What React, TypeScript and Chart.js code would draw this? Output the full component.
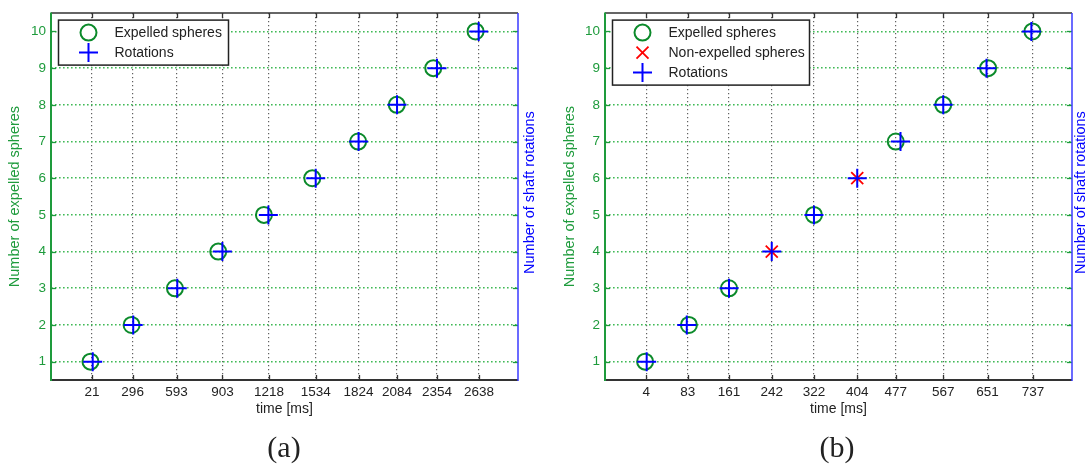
import React, { useEffect, useRef } from 'react';
import { Chart, registerables } from 'chart.js';

Chart.register(...registerables);

// ---------- data ----------
const yTicks = [1, 2, 3, 4, 5, 6, 7, 8, 9, 10];

// panel (a)
const countsA = [1, 2, 3, 4, 5, 6, 7, 8, 9, 10];
const expelledTimesA = [11, 289, 582, 875, 1184, 1511, 1821, 2082, 2329, 2615];
const rotationTimesA = [26, 300, 598, 903, 1214, 1534, 1824, 2084, 2354, 2636];
const xTicksA = [21, 296, 593, 903, 1218, 1534, 1824, 2084, 2354, 2638];

// panel (b)
const expelledCountsB = [1, 2, 3, 5, 7, 8, 9, 10];
const expelledTimesB = [2, 85, 161, 322, 477, 567, 652, 736];
const nonExpelledCountsB = [4, 6];
const nonExpelledTimesB = [242, 404];
const rotationCountsB = [1, 2, 3, 4, 5, 6, 7, 8, 9, 10];
const rotationTimesB = [5, 81, 161, 242, 322, 404, 486, 567, 649, 734];
const xTicksB = [4, 83, 161, 242, 322, 404, 477, 567, 651, 737];

// ---------- styles ----------
const FONT = '"Liberation Sans", Arial, sans-serif';
const GREEN = '#1e9b3c';
const GREEN_GRID = '#3fba55';
const CIRCLE_GREEN = '#0b8a2a';
const BLUE = '#0000ff';
const RIGHT_BLUE = '#3a3aff';
const RED = '#ff0000';
const DARK = '#333333';
const GRAY_GRID = '#606060';

type LegendItem = { label: string; style: 'circle' | 'cross' | 'crossRot' };

function drawMarker(ctx: CanvasRenderingContext2D, style: string, x: number, y: number) {
  ctx.save();
  ctx.beginPath();
  if (style === 'circle') {
    ctx.strokeStyle = CIRCLE_GREEN;
    ctx.lineWidth = 2;
    ctx.arc(x, y, 8, 0, Math.PI * 2);
  } else if (style === 'cross') {
    ctx.strokeStyle = BLUE;
    ctx.lineWidth = 2;
    ctx.moveTo(x - 9.5, y);
    ctx.lineTo(x + 9.5, y);
    ctx.moveTo(x, y - 9.5);
    ctx.lineTo(x, y + 9.5);
  } else {
    ctx.strokeStyle = RED;
    ctx.lineWidth = 1.8;
    const d = 6;
    ctx.moveTo(x - d, y - d);
    ctx.lineTo(x + d, y + d);
    ctx.moveTo(x - d, y + d);
    ctx.lineTo(x + d, y - d);
  }
  ctx.stroke();
  ctx.restore();
}

const decorPlugin = {
  id: 'decor',
  afterDraw(chart: any, _args: any, opts: any) {
    const { ctx, chartArea: a, scales } = chart;
    const xs = scales.x;
    const ys = scales.y;
    const line = (x1: number, y1: number, x2: number, y2: number) => {
      ctx.beginPath();
      ctx.moveTo(x1, y1);
      ctx.lineTo(x2, y2);
      ctx.stroke();
    };
    ctx.save();
    // tick marks (inward)
    ctx.lineWidth = 1.3;
    ctx.strokeStyle = DARK;
    for (const t of opts.xTicks as number[]) {
      const px = Math.round(xs.getPixelForValue(t)) + 0.5;
      line(px, a.bottom, px, a.bottom - 5);
      line(px, a.top, px, a.top + 5);
    }
    ctx.strokeStyle = GREEN;
    for (const t of yTicks) {
      const py = Math.round(ys.getPixelForValue(t)) + 0.5;
      line(a.left, py, a.left + 5, py);
      line(a.right, py, a.right - 5, py);
    }
    // box
    ctx.lineWidth = 1.5;
    ctx.strokeStyle = DARK;
    line(a.left, a.top, a.right, a.top);
    ctx.lineWidth = 2;
    line(a.left, a.bottom, a.right, a.bottom);
    ctx.strokeStyle = RIGHT_BLUE;
    ctx.lineWidth = 1.5;
    line(a.right, a.top, a.right, a.bottom + 1);
    ctx.strokeStyle = GREEN;
    ctx.lineWidth = 2;
    line(a.left, a.top - 0.5, a.left, a.bottom + 1);

    // right axis title
    ctx.save();
    ctx.translate(a.right + opts.rightTitleOffset, (a.top + a.bottom) / 2 - 4);
    ctx.rotate(-Math.PI / 2);
    ctx.fillStyle = BLUE;
    ctx.font = `14.5px ${FONT}`;
    ctx.textAlign = 'center';
    ctx.textBaseline = 'middle';
    ctx.fillText('Number of shaft rotations', 0, 0);
    ctx.restore();

    // legend
    const items: LegendItem[] = opts.legend;
    const lx = a.left + 7.5;
    const ly = a.top + 7;
    const lw = opts.legendWidth;
    const lh = items.length * 20 + 5;
    ctx.fillStyle = '#ffffff';
    ctx.fillRect(lx, ly, lw, lh);
    ctx.strokeStyle = '#222222';
    ctx.lineWidth = 1.5;
    ctx.strokeRect(lx, ly, lw, lh);
    ctx.font = `14px ${FONT}`;
    ctx.textAlign = 'left';
    ctx.textBaseline = 'middle';
    items.forEach((it, i) => {
      const cy = ly + 12.5 + i * 20;
      drawMarker(ctx, it.style, lx + 30, cy);
      ctx.fillStyle = '#222222';
      ctx.fillText(it.label, lx + 56, cy + 0.5);
    });
    ctx.restore();
  },
};

type PanelSpec = {
  datasets: any[];
  xMin: number;
  xMax: number;
  xTicks: number[];
  leftWidth: number;
  rightPad: number;
  leftTitlePad: number;
  rightTitleOffset: number;
  legend: LegendItem[];
  legendWidth: number;
};

function makeConfig(spec: PanelSpec): any {
  return {
    type: 'scatter',
    data: { datasets: spec.datasets },
    plugins: [decorPlugin],
    options: {
      animation: false,
      responsive: false,
      events: [],
      layout: { padding: { top: 13, right: spec.rightPad, left: 0, bottom: 0 } },
      plugins: {
        legend: { display: false },
        tooltip: { enabled: false },
        decor: {
          xTicks: spec.xTicks,
          legend: spec.legend,
          legendWidth: spec.legendWidth,
          rightTitleOffset: spec.rightTitleOffset,
        },
      },
      scales: {
        x: {
          type: 'linear',
          min: spec.xMin,
          max: spec.xMax,
          afterBuildTicks: (s: any) => {
            s.ticks = spec.xTicks.map((v) => ({ value: v }));
          },
          afterFit: (s: any) => {
            s.height = 88;
          },
          ticks: {
            autoSkip: false,
            maxRotation: 0,
            minRotation: 0,
            padding: 4,
            color: '#222222',
            font: { family: FONT, size: 13.5 },
            callback: (v: any) => String(v),
          },
          grid: { color: GRAY_GRID, lineWidth: 1.2, drawTicks: false },
          border: { display: false, dash: [1.2, 2.8] },
          title: {
            display: true,
            text: 'time [ms]',
            color: '#222222',
            font: { family: FONT, size: 14 },
            padding: { top: 0, bottom: 50 },
          },
        },
        y: {
          type: 'linear',
          min: 0.5,
          max: 10.5,
          afterBuildTicks: (s: any) => {
            s.ticks = yTicks.map((v) => ({ value: v }));
          },
          afterFit: (s: any) => {
            s.width = spec.leftWidth;
          },
          ticks: {
            padding: 5,
            color: GREEN,
            font: { family: FONT, size: 13.5 },
          },
          grid: { color: GREEN_GRID, lineWidth: 1.6, drawTicks: false },
          border: { display: false, dash: [1.6, 2.4] },
          title: {
            display: true,
            text: 'Number of expelled spheres',
            color: GREEN,
            font: { family: FONT, size: 14.5 },
            padding: { top: spec.leftTitlePad, bottom: 0 },
          },
        },
      },
    },
  };
}

const pts = (xs: number[], ys: number[]) => xs.map((x, i) => ({ x, y: ys[i] }));

const circleDs = (label: string, data: any[]) => ({
  label,
  data,
  pointStyle: 'circle',
  pointRadius: 8,
  pointBorderWidth: 2,
  pointBorderColor: CIRCLE_GREEN,
  pointBackgroundColor: 'rgba(0,0,0,0)',
  order: 2,
});
const plusDs = (label: string, data: any[]) => ({
  label,
  data,
  pointStyle: 'cross',
  pointRadius: 9.5,
  pointBorderWidth: 2,
  pointBorderColor: BLUE,
  pointBackgroundColor: BLUE,
  order: 0,
});
const xDs = (label: string, data: any[]) => ({
  label,
  data,
  pointStyle: 'crossRot',
  pointRadius: 8.5,
  pointBorderWidth: 1.8,
  pointBorderColor: RED,
  pointBackgroundColor: RED,
  order: 1,
});

function specA(): PanelSpec {
  return {
    datasets: [
      circleDs('Expelled spheres', pts(expelledTimesA, countsA)),
      plusDs('Rotations', pts(rotationTimesA, countsA)),
    ],
    xMin: -256,
    xMax: 2902,
    xTicks: xTicksA,
    leftWidth: 51,
    rightPad: 32,
    leftTitlePad: 6,
    rightTitleOffset: 12,
    legend: [
      { label: 'Expelled spheres', style: 'circle' },
      { label: 'Rotations', style: 'cross' },
    ],
    legendWidth: 170,
  };
}

function specB(): PanelSpec {
  return {
    datasets: [
      circleDs('Expelled spheres', pts(expelledTimesB, expelledCountsB)),
      xDs('Non-expelled spheres', pts(nonExpelledTimesB, nonExpelledCountsB)),
      plusDs('Rotations', pts(rotationTimesB, rotationCountsB)),
    ],
    xMin: -74,
    xMax: 811,
    xTicks: xTicksB,
    leftWidth: 55,
    rightPad: 17,
    leftTitlePad: 11,
    rightTitleOffset: 9,
    legend: [
      { label: 'Expelled spheres', style: 'circle' },
      { label: 'Non-expelled spheres', style: 'crossRot' },
      { label: 'Rotations', style: 'cross' },
    ],
    legendWidth: 197,
  };
}

function Panel({ left, width, build }: { left: number; width: number; build: () => PanelSpec }) {
  const ref = useRef<HTMLCanvasElement>(null);
  useEffect(() => {
    const chart = new Chart(ref.current as HTMLCanvasElement, makeConfig(build()));
    return () => chart.destroy();
  }, []);
  return (
    <div style={{ position: 'absolute', left, top: 0, width, height: 468 }}>
      <canvas ref={ref} width={width} height={468} style={{ display: 'block' }} />
    </div>
  );
}

const captionStyle = (x: number): React.CSSProperties => ({
  position: 'absolute',
  left: x,
  top: 447,
  transform: 'translate(-50%, -50%)',
  fontFamily: '"Liberation Serif", "Times New Roman", serif',
  fontSize: 30,
  color: '#222222',
  lineHeight: 1,
  whiteSpace: 'nowrap',
});

export default function App() {
  return (
    <div
      style={{
        position: 'absolute',
        left: 0,
        top: 0,
        width: 1089,
        height: 468,
        background: '#ffffff',
        overflow: 'hidden',
      }}
    >
      <Panel left={0} width={550} build={specA} />
      <Panel left={550} width={539} build={specB} />
      <div style={captionStyle(284)}>(a)</div>
      <div style={captionStyle(837)}>(b)</div>
    </div>
  );
}
